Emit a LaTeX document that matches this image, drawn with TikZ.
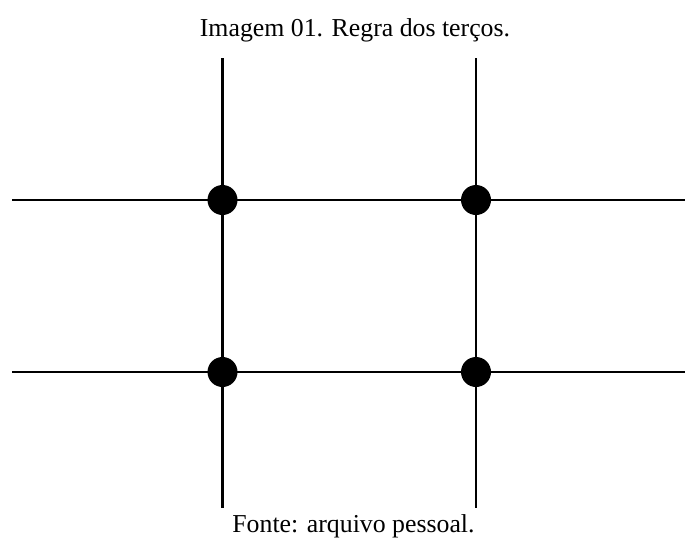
\documentclass[tikz,border=0pt]{standalone}
\usepackage{fontspec}
\setmainfont{Liberation Serif}
\begin{document}
\begin{tikzpicture}[x=1pt,y=-1pt,
  gridline/.style={line width=2.6pt, black},
  dot/.style={circle, fill=black, inner sep=0pt, minimum size=30pt},
  caption/.style={font=\fontsize{25.8}{30}\selectfont, inner sep=0pt}]
\useasboundingbox (0,0) rectangle (685,538);
% endpoints
\coordinate (v1t) at (222.5,58);
\coordinate (v1b) at (222.5,508);
\coordinate (v2t) at (476,58);
\coordinate (v2b) at (476,508);
\coordinate (h1l) at (12,200);
\coordinate (h1r) at (685,200);
\coordinate (h2l) at (12,372);
\coordinate (h2r) at (685,372);
\draw[gridline] (v1t) -- (v1b);
\draw[gridline] (v2t) -- (v2b);
\draw[gridline] (h1l) -- (h1r);
\draw[gridline] (h2l) -- (h2r);
\node[dot] (p11) at (222.5,200) {};
\node[dot] (p12) at (476,200) {};
\node[dot] (p21) at (222.5,372) {};
\node[dot] (p22) at (476,372) {};
\node[caption, anchor=base] (title) at (355,36) {Imagem 01. Regra dos terços.};
\node[caption, anchor=base] (source) at (353.5,532) {Fonte: arquivo pessoal.};
\end{tikzpicture}
\end{document}
